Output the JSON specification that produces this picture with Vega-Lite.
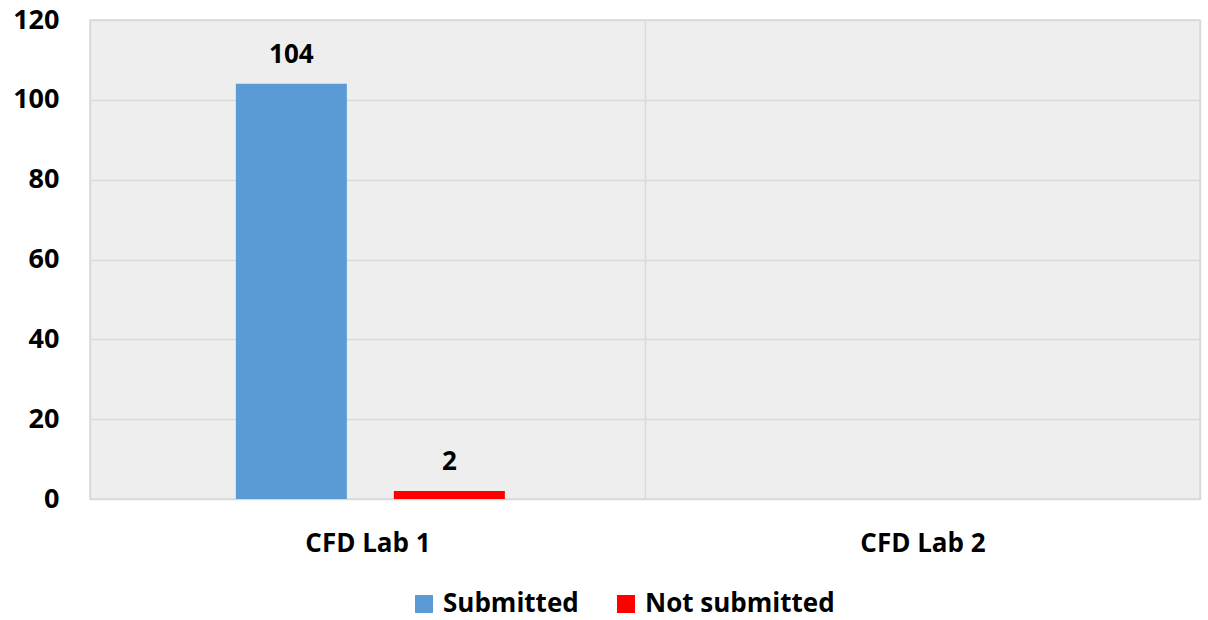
{
  "$schema": "https://vega.github.io/schema/vega-lite/v6.json",
  "width": 1110,
  "height": 479,
  "autosize": {"type": "none"},
  "padding": {"left": 90, "top": 20, "right": 8, "bottom": 121},
  "background": "white",
  "config": {
    "view": {"fill": "#eeeeee", "stroke": "#d9d9d9", "strokeWidth": 1.5},
    "font": "Open Sans"
  },
  "data": {
    "values": [
      {"lab": "CFD Lab 1", "status": "Submitted", "count": 104},
      {"lab": "CFD Lab 1", "status": "Not submitted", "count": 2},
      {"lab": "CFD Lab 2", "status": "Submitted", "count": null},
      {"lab": "CFD Lab 2", "status": "Not submitted", "count": null}
    ]
  },
  "encoding": {
    "x": {
      "field": "lab",
      "type": "nominal",
      "scale": {"domain": ["CFD Lab 1", "CFD Lab 2"], "paddingInner": 0, "paddingOuter": 0},
      "axis": {
        "title": null,
        "labelAngle": 0,
        "labelFontSize": 26,
        "labelFontWeight": "bold",
        "labelColor": "black",
        "labelPadding": 31,
        "ticks": false,
        "domain": false,
        "grid": true,
        "tickBand": "extent",
        "gridColor": "#d9d9d9",
        "gridWidth": 1.5
      }
    },
    "xOffset": {
      "field": "status",
      "type": "nominal",
      "sort": ["Submitted", "Not submitted"],
      "scale": {"paddingInner": 0.2975, "paddingOuter": 0.905, "align": 0.51}
    },
    "y": {
      "field": "count",
      "type": "quantitative",
      "scale": {"domain": [0, 120], "nice": false},
      "axis": {
        "title": null,
        "values": [0, 20, 40, 60, 80, 100, 120],
        "labelFontSize": 27,
        "labelFontWeight": "bold",
        "labelColor": "black",
        "labelPadding": 31,
        "ticks": false,
        "domain": false,
        "gridColor": "#d9d9d9",
        "gridWidth": 1.5
      }
    }
  },
  "layer": [
    {
      "mark": {"type": "bar"},
      "encoding": {
        "color": {
          "field": "status",
          "type": "nominal",
          "sort": ["Submitted", "Not submitted"],
          "scale": {"domain": ["Submitted", "Not submitted"], "range": ["#5b9bd5", "#ff0000"]},
          "legend": {
            "title": null,
            "orient": "none",
            "direction": "horizontal",
            "legendX": 321,
            "legendY": 571,
            "symbolType": "square",
            "symbolSize": 324,
            "symbolStrokeWidth": 0,
            "symbolOpacity": 1,
            "labelFontSize": 26,
            "labelFontWeight": "bold",
            "labelColor": "black",
            "labelOffset": 6,
            "labelLimit": 400,
            "columnPadding": 34,
            "padding": 0
          }
        }
      }
    },
    {
      "mark": {"type": "text", "baseline": "alphabetic", "dy": -21, "fontSize": 26, "fontWeight": "bold", "color": "black"},
      "encoding": {"text": {"field": "count", "type": "quantitative"}}
    }
  ]
}
